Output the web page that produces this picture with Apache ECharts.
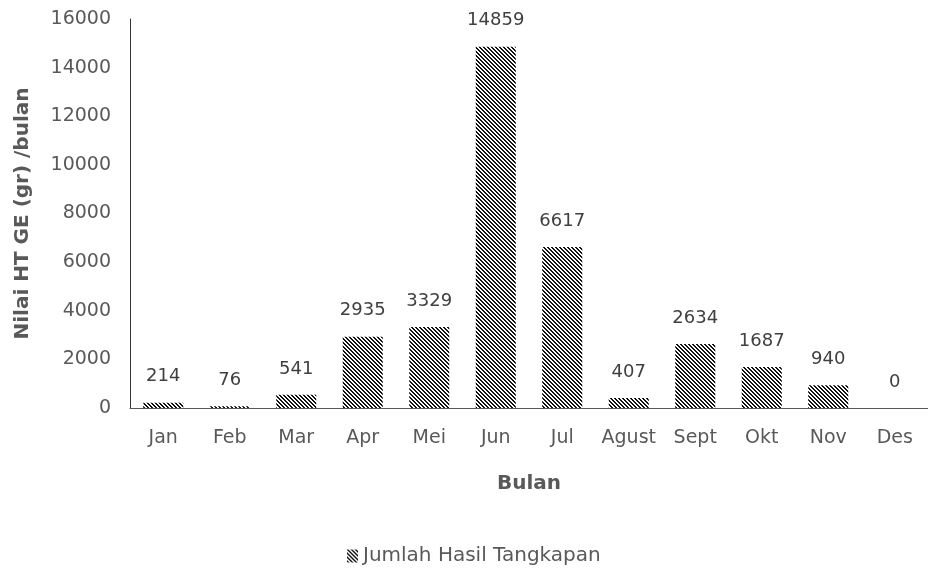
<!DOCTYPE html>
<html>
<head>
<meta charset="utf-8">
<script src="https://cdn.jsdelivr.net/npm/echarts@6/dist/echarts.min.js"></script>
<style>html,body{margin:0;padding:0;background:#fff}#c{width:928px;height:571px}</style>
</head>
<body>
<div id="c"></div>
<script>
const categories = ['Jan','Feb','Mar','Apr','Mei','Jun','Jul','Agust','Sept','Okt','Nov','Des'];
const values = [214, 76, 541, 2935, 3329, 14859, 6617, 407, 2634, 1687, 940, 0];
const seriesName = 'Jumlah Hasil Tangkapan';
const yAxisTitle = 'Nilai HT GE (gr) /bulan';
const xAxisTitle = 'Bulan';

function makePattern() {
  const c = document.createElement('canvas');
  c.width = 4; c.height = 4;
  const ctx = c.getContext('2d');
  ctx.fillStyle = '#ffffff';
  ctx.fillRect(0, 0, 4, 4);
  ctx.fillStyle = '#111111';
  for (let y = 0; y < 4; y++) {
    for (let x = 0; x < 4; x++) {
      const d = ((x - y) % 4 + 4) % 4;
      if (d === 0 || d === 1) ctx.fillRect(x, y, 1, 1);
    }
  }
  return c;
}
const pattern = { image: makePattern(), repeat: 'repeat' };

const chart = echarts.init(document.getElementById('c'), null, { renderer: 'canvas' });
const font = '"DejaVu Sans", sans-serif';
chart.setOption({
  animation: false,
  textStyle: { fontFamily: font },
  grid: { left: 130, top: 19, width: 807, height: 389 },
  xAxis: {
    type: 'category',
    data: categories,
    name: xAxisTitle,
    nameLocation: 'middle',
    nameGap: 66,
    nameTextStyle: { fontSize: 20, fontWeight: 'bold', color: '#595959', fontFamily: font },
    axisLine: { lineStyle: { color: '#595959', width: 1 } },
    axisTick: { show: false },
    axisLabel: { interval: 0, fontSize: 19, color: '#595959', margin: 21, fontFamily: font }
  },
  yAxis: {
    type: 'value',
    min: 0, max: 16000, interval: 2000,
    name: yAxisTitle,
    nameLocation: 'middle',
    nameGap: 97,
    nameRotate: 90,
    nameTextStyle: { fontSize: 20, fontWeight: 'bold', color: '#595959', fontFamily: font },
    axisLine: { show: true, lineStyle: { color: '#333333', width: 1 } },
    axisTick: { show: false },
    splitLine: { show: false },
    axisLabel: { fontSize: 19, color: '#595959', margin: 19, fontFamily: font, formatter: v => String(v) }
  },
  legend: {
    data: [seriesName],
    top: 541,
    left: 342,
    itemWidth: 11,
    itemHeight: 13,
    itemGap: 10,
    icon: 'rect',
    textStyle: { fontSize: 20, color: '#595959', fontFamily: font }
  },
  series: [{
    name: seriesName,
    type: 'bar',
    data: values,
    barWidth: 40,
    itemStyle: { color: pattern },
    label: {
      show: true,
      position: 'top',
      distance: 17,
      fontSize: 18,
      color: '#404040',
      fontFamily: font
    }
  }]
});
</script>
</body>
</html>
